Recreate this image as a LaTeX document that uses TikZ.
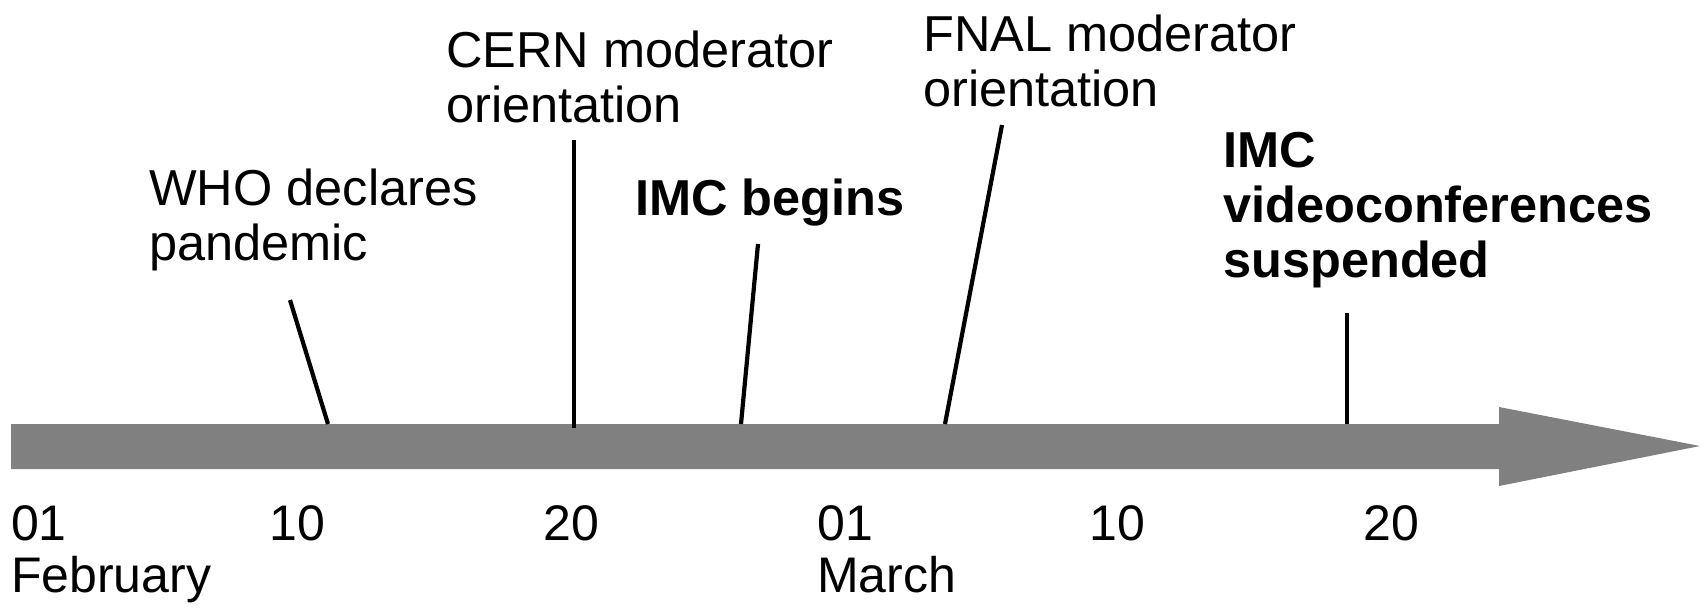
\documentclass[tikz,border=0pt]{standalone}
\usepackage{fontspec}
\setmainfont{Liberation Sans}
\usetikzlibrary{positioning}

\begin{document}
\begin{tikzpicture}[x=1pt,y=-1pt,
        event/.style={anchor=base west,inner sep=0pt,align=left,font=\fontsize{50.5}{55}\selectfont},
        keyevent/.style={event,font=\fontsize{50.5}{55}\selectfont\bfseries},
        datelabel/.style={anchor=base west,inner sep=0pt,font=\fontsize{50}{55}\selectfont},
        leader/.style={line width=4.2pt,black}]
    \useasboundingbox (0,0) rectangle (1703,608);
    % time axis
    \fill[gray] (11,424) -- (1499,424) -- (1499,407) -- (1700,446) -- (1499,486)
                -- (1499,469) -- (11,469) -- cycle;
    % day marks below the axis
    \foreach \x/\d [count=\i] in {11/01,269/10,543/20,817/01,1089/10,1363/20}
        \node[datelabel] (day\i) at (\x,540) {\d};
    \node[datelabel] (feb) at (11,592) {February};
    \node[datelabel] (mar) at (817,592) {March};
    % events (base = last line)
    \node[event] (who) at (149,260) {WHO declares\\pandemic};
    \node[event] (cern) at (446,122) {CERN moderator\\orientation};
    \node[keyevent] (imcstart) at (635,215) {IMC begins};
    \node[event] (fnal) at (923,106) {FNAL moderator\\orientation};
    \node[keyevent] (imcstop) at (1223,277) {IMC\\videoconferences\\suspended};
    % leader lines
    \coordinate (who-top) at (290,300);   \coordinate (who-bar) at (328,424);
    \coordinate (cern-top) at (574,140);  \coordinate (cern-bar) at (574,428);
    \coordinate (imcstart-top) at (758,244); \coordinate (imcstart-bar) at (741,424);
    \coordinate (fnal-top) at (1002,125); \coordinate (fnal-bar) at (945,424);
    \coordinate (imcstop-top) at (1347,313); \coordinate (imcstop-bar) at (1347,424);
    \foreach \e in {who,cern,imcstart,fnal,imcstop}
        \draw[leader] (\e-top) -- (\e-bar);
\end{tikzpicture}
\end{document}
